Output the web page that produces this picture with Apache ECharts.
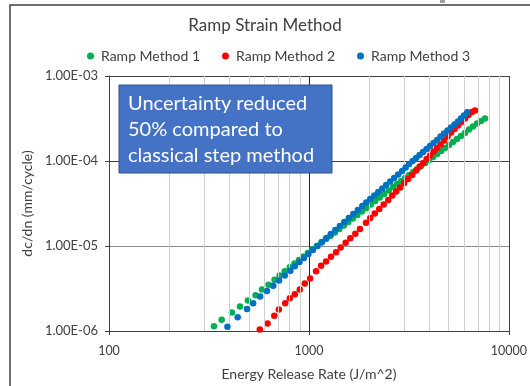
<!DOCTYPE html>
<html>
<head>
<meta charset="utf-8">
<script src="https://cdn.jsdelivr.net/npm/echarts@6/dist/echarts.min.js"></script>
<style>
html,body{margin:0;padding:0;background:#fff;}
#chart{width:530px;height:386px;}
</style>
</head>
<body>
<div id="chart"></div>
<script>
const titleText = 'Ramp Strain Method';
const seriesNames = ['Ramp Method 1', 'Ramp Method 2', 'Ramp Method 3'];
const xAxisTitle = 'Energy Release Rate (J/m^2)';
const yAxisTitle = 'dc/dn (mm/cycle)';
const noteLines = ['Uncertainty reduced', '50% compared to', 'classical step method'];

const xTicks = [100, 1000, 10000];
const xTickLabels = ['100', '1000', '10000'];
const yTicks = [1e-6, 1e-5, 1e-4, 1e-3];
const yTickLabels = ['1.00E-06', '1.00E-05', '1.00E-04', '1.00E-03'];
const xMinorGrid = [200,300,400,500,600,700,800,900,2000,3000,4000,5000,6000,7000,8000,9000];
const yMinorGrid = [2e-6,3e-6,4e-6,5e-6,6e-6,7e-6,8e-6,9e-6,2e-5,3e-5,4e-5,5e-5,6e-5,7e-5,8e-5,9e-5,2e-4,3e-4,4e-4,5e-4,6e-4,7e-4,8e-4,9e-4];

const m1X = [335,366,412,452,495,541,582,628,673,713,757,802,847,891,939,989,1041,1096,1154,1216,1280,1348,1419,1495,1574,1658,1746,1838,1936,2038,2146,2260,2380,2506,2639,2763,2893,3029,3171,3320,3476,3640,3811,3990,4177,4375,4579,4795,5020,5256,5503,5762,6033,6317,6613,6924,7250,7591];
const m1Y = [1.14e-6,1.355e-6,1.65e-6,1.94e-6,2.285e-6,2.64e-6,3.08e-6,3.5e-6,4.0e-6,4.5e-6,5.05e-6,5.63e-6,6.22e-6,6.84e-6,7.52e-6,8.27e-6,9.09e-6,1.0e-5,1.1e-5,1.21e-5,1.31e-5,1.44e-5,1.585e-5,1.742e-5,1.916e-5,2.106e-5,2.316e-5,2.546e-5,2.8e-5,3.08e-5,3.38e-5,3.72e-5,4.09e-5,4.5e-5,4.94e-5,5.36e-5,5.82e-5,6.31e-5,6.84e-5,7.42e-5,8.05e-5,8.73e-5,9.47e-5,1.027e-4,1.114e-4,1.209e-4,1.311e-4,1.422e-4,1.542e-4,1.673e-4,1.815e-4,1.968e-4,2.135e-4,2.348e-4,2.546e-4,2.76e-4,2.955e-4,3.16e-4];

const m2X = [568,621,671,707,761,802,850,900,953,1014,1086,1150,1218,1290,1367,1441,1526,1611,1706,1800,1929,2026,2134,2247,2366,2492,2610,2732,2860,2995,3135,3283,3438,3578,3725,3878,4036,4202,4375,4554,4741,4935,5137,5348,5567,5796,6033,6281,6538,6768];
const m2Y = [1.04e-6,1.225e-6,1.51e-6,1.79e-6,2.12e-6,2.43e-6,2.71e-6,3.08e-6,3.62e-6,4.15e-6,5.05e-6,5.85e-6,6.57e-6,7.46e-6,8.45e-6,9.6e-6,1.09e-5,1.235e-5,1.39e-5,1.59e-5,1.875e-5,2.135e-5,2.41e-5,2.72e-5,3.08e-5,3.48e-5,3.93e-5,4.38e-5,4.88e-5,5.51e-5,6.14e-5,6.84e-5,7.73e-5,8.61e-5,9.47e-5,1.056e-4,1.16e-4,1.294e-4,1.422e-4,1.563e-4,1.742e-4,1.942e-4,2.164e-4,2.38e-4,2.616e-4,2.876e-4,3.16e-4,3.476e-4,3.77e-4,3.93e-4];

const m3X = [391,440,490,526,570,617,663,709,757,808,850,897,944,994,1047,1103,1161,1223,1287,1356,1428,1503,1583,1667,1756,1849,1936,2026,2122,2222,2326,2435,2550,2669,2795,2926,3046,3171,3302,3438,3578,3725,3878,4036,4202,4375,4554,4741,4935,5137,5348,5567,5762,5965,6195];
const m3Y = [1.12e-6,1.45e-6,1.82e-6,2.12e-6,2.55e-6,2.96e-6,3.41e-6,3.93e-6,4.5e-6,5.11e-6,5.79e-6,6.48e-6,7.22e-6,8.05e-6,8.97e-6,1.0e-5,1.114e-5,1.242e-5,1.384e-5,1.542e-5,1.719e-5,1.916e-5,2.135e-5,2.379e-5,2.652e-5,2.955e-5,3.25e-5,3.57e-5,3.93e-5,4.32e-5,4.75e-5,5.22e-5,5.74e-5,6.31e-5,6.94e-5,7.63e-5,8.39e-5,9.22e-5,1.0e-4,1.085e-4,1.177e-4,1.276e-4,1.384e-4,1.501e-4,1.628e-4,1.766e-4,1.942e-4,2.106e-4,2.284e-4,2.477e-4,2.687e-4,2.914e-4,3.16e-4,3.43e-4,3.75e-4];

const colors = ['#00B050', '#FF0000', '#0070C0'];
const FONT = 'Lato';

function pairs(xs, ys) { return xs.map((x, i) => [x, ys[i]]); }
function labelFor(ticks, labels, v) {
  for (let i = 0; i < ticks.length; i++) {
    if (Math.abs(Math.log10(v) - Math.log10(ticks[i])) < 1e-6) return labels[i];
  }
  return '';
}

const chart = echarts.init(document.getElementById('chart'), null, {renderer: 'canvas'});

const minorLines = [];
xMinorGrid.forEach(v => minorLines.push({xAxis: v}));
yMinorGrid.forEach(v => minorLines.push({yAxis: v}));

const option = {
  animation: false,
  backgroundColor: '#ffffff',
  title: {
    text: titleText,
    left: 'center',
    top: 12,
    textStyle: {fontFamily: FONT, fontSize: 17, fontWeight: 'normal', color: '#404040'}
  },
  legend: {
    top: 44,
    left: 82,
    itemWidth: 7,
    itemHeight: 7,
    itemGap: 22,
    icon: 'circle',
    data: seriesNames,
    textStyle: {fontFamily: FONT, fontSize: 14, color: '#404040', padding: [0, 0, 0, 2]}
  },
  grid: {left: 109, right: 20, top: 76, bottom: 54.5, containLabel: false},
  xAxis: {
    type: 'log',
    logBase: 10,
    min: 100,
    max: 10000,
    name: xAxisTitle,
    nameLocation: 'middle',
    nameGap: 36,
    nameTextStyle: {fontFamily: FONT, fontSize: 14, color: '#404040'},
    axisLine: {show: true, lineStyle: {color: '#404040', width: 1}},
    axisTick: {show: true, length: 4, lineStyle: {color: '#404040'}},
    axisLabel: {
      fontFamily: FONT, fontSize: 12.5, color: '#404040', margin: 13,
      formatter: v => labelFor(xTicks, xTickLabels, v)
    },
    splitLine: {show: true, lineStyle: {color: ['#404040', '#262626', '#404040'], width: 1}}
  },
  yAxis: {
    type: 'log',
    logBase: 10,
    min: 1e-6,
    max: 1e-3,
    name: yAxisTitle,
    nameLocation: 'middle',
    nameGap: 71,
    nameRotate: 90,
    nameTextStyle: {fontFamily: FONT, fontSize: 14, color: '#404040'},
    axisLine: {show: true, lineStyle: {color: '#404040', width: 1}},
    axisTick: {show: true, length: 4, lineStyle: {color: '#404040'}},
    axisLabel: {
      fontFamily: FONT, fontSize: 13, color: '#404040', margin: 11,
      formatter: v => labelFor(yTicks, yTickLabels, v)
    },
    splitLine: {show: true, lineStyle: {color: ['#404040', '#8c8c8c', '#404040', '#595959'], width: 1}}
  },
  series: [
    {
      type: 'scatter',
      name: '__minor',
      data: [],
      silent: true,
      z: 0,
      markLine: {
        silent: true,
        symbol: ['none', 'none'],
        label: {show: false},
        lineStyle: {color: '#d0d0d0', width: 1, type: 'solid'},
        emphasis: {disabled: true},
        animation: false,
        data: minorLines
      }
    },
    {type: 'scatter', name: seriesNames[0], data: pairs(m1X, m1Y), symbol: 'circle', symbolSize: 6.5, itemStyle: {color: colors[0], opacity: 1}, z: 3},
    {type: 'scatter', name: seriesNames[1], data: pairs(m2X, m2Y), symbol: 'circle', symbolSize: 6.5, itemStyle: {color: colors[1], opacity: 1}, z: 4},
    {type: 'scatter', name: seriesNames[2], data: pairs(m3X, m3Y), symbol: 'circle', symbolSize: 6.5, itemStyle: {color: colors[2], opacity: 1}, z: 5}
  ],
  graphic: [
    {
      type: 'rect',
      z: 100,
      shape: {x: 10, y: 5, width: 600, height: 500},
      style: {fill: 'none', stroke: '#404040', lineWidth: 1.5}
    },
    {
      type: 'rect',
      z: 100,
      shape: {x: 440, y: 0, width: 5, height: 3},
      style: {fill: '#a0a0a0'}
    },
    {
      type: 'rect',
      z: 100,
      zlevel: 1,
      shape: {x: 119, y: 85, width: 213, height: 88},
      style: {fill: '#4472C4', stroke: '#2F528F', lineWidth: 1}
    },
    {
      type: 'text',
      z: 101,
      zlevel: 1,
      x: 128,
      y: 91,
      style: {
        text: noteLines.join('\n'),
        fontFamily: FONT,
        fontSize: 20,
        lineHeight: 26,
        fill: '#ffffff'
      }
    }
  ]
};
chart.setOption(option);
</script>
</body>
</html>
